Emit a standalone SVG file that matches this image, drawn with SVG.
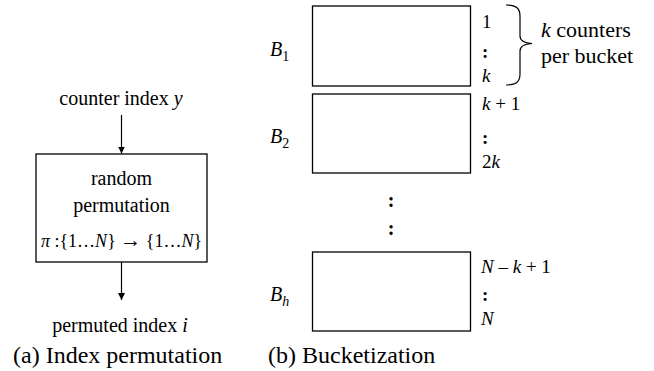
<svg xmlns="http://www.w3.org/2000/svg" width="654" height="371" viewBox="0 0 654 371" font-family="'Liberation Serif', 'DejaVu Serif', serif">
<defs>
<style>
text{font-family:'Liberation Serif','DejaVu Serif',serif;fill:#000}
.t20{font-size:20px}
.t18{font-size:18px}
.t19{font-size:19px}
.t22{font-size:22px}
.cap{font-size:24px}
.it{font-style:italic}
.box{fill:#fff;stroke:#000;stroke-width:1.3}
.conn{stroke:#000;stroke-width:1.2;fill:none}
.mid{text-anchor:middle}
.bold{font-weight:bold}
</style>
<marker id="ah" viewBox="0 0 10 10" refX="10" refY="5" markerWidth="7" markerHeight="8" markerUnits="userSpaceOnUse" orient="auto">
<path d="M0,0 L10,5 L0,10 Z" fill="#000"/>
</marker>
</defs>
<rect width="654" height="371" fill="#fff"/>

<g id="input-label">
<text class="t20 mid" x="121" y="105">counter index <tspan class="it">y</tspan></text>
</g>

<g id="permutation-box">
<rect class="box" x="36" y="154" width="171" height="108"/>
<text class="t20 mid" x="121.5" y="185">random</text>
<text class="t20 mid" x="121.5" y="212">permutation</text>
<text class="t18 mid" x="121.5" y="247"><tspan class="it">π</tspan> :{1…<tspan class="it">N</tspan>} <tspan font-size="21">→</tspan> {1…<tspan class="it">N</tspan>}</text>
</g>

<g id="output-label">
<text class="t20 mid" x="120" y="332">permuted index <tspan class="it">i</tspan></text>
</g>

<g id="connectors">
<line class="conn" x1="121.5" y1="115" x2="121.5" y2="153.5" marker-end="url(#ah)"/>
<line class="conn" x1="121.5" y1="262" x2="121.5" y2="300" marker-end="url(#ah)"/>
</g>

<g id="bucket-1">
<rect class="box" x="312.5" y="6" width="158" height="80"/>
<text class="t20 it" x="270" y="56">B<tspan font-size="14" font-style="normal" dy="5">1</tspan></text>
<text class="t19" x="482" y="28">1</text>
<text class="t19 bold" x="482" y="58">:</text>
<text class="t19 it" x="482" y="82">k</text>
</g>

<g id="bucket-2">
<rect class="box" x="312.5" y="94" width="158" height="79"/>
<text class="t20 it" x="270" y="143">B<tspan font-size="14" font-style="normal" dy="5">2</tspan></text>
<text class="t19" x="482" y="110"><tspan class="it">k</tspan> + 1</text>
<text class="t19 bold" x="482" y="144">:</text>
<text class="t19" x="482" y="168">2<tspan class="it">k</tspan></text>
</g>

<g id="ellipsis">
<text class="t20 bold mid" x="391" y="207">:</text>
<text class="t20 bold mid" x="391" y="235">:</text>
</g>

<g id="bucket-h">
<rect class="box" x="312.5" y="252" width="158" height="79"/>
<text class="t20 it" x="270" y="301">B<tspan font-size="14" dy="5">h</tspan></text>
<text class="t19" x="481" y="273"><tspan class="it">N</tspan> – <tspan class="it">k</tspan> + 1</text>
<text class="t19 bold" x="482" y="301">:</text>
<text class="t19 it" x="481" y="325">N</text>
</g>

<g id="brace">
<path class="conn" d="M506,5 C516,5 520,8 520,16 L520,36 C520,41 524,43 532,43.5 C524,44 520,46 520,51 L520,74 C520,82 516,85 506,85"/>
<text class="t22" x="541" y="37"><tspan class="it">k</tspan> counters</text>
<text class="t22" x="541" y="63">per bucket</text>
</g>

<g id="captions">
<text class="cap" x="13" y="363">(a) Index permutation</text>
<text class="cap" x="268" y="363">(b) Bucketization</text>
</g>
</svg>
